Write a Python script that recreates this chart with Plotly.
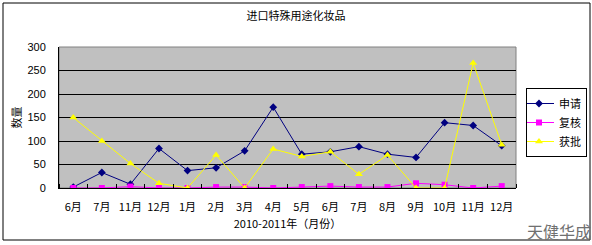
import plotly.graph_objects as go

months = ["6月", "7月", "11月", "12月", "1月", "2月", "3月", "4月", "5月", "6月", "7月", "8月", "9月", "10月", "11月", "12月"]
apply_vals = [2, 33, 8, 84, 37, 43, 79, 172, 72, 77, 88, 72, 65, 139, 133, 90]
review_vals = [0, 0, 3, 0, 0, 2, 2, 0, 2, 4, 2, 2, 10, 7, 0, 4]
approve_vals = [150, 100, 52, 10, 0, 70, 0, 83, 67, 77, 29, 70, 0, 0, 266, 92]

W, H = 592, 245
L, R, T, B = 59, 516, 47, 188
pw, ph = R - L, B - T

def px(x):
    return (x - L) / pw

def py(y):
    return (B - y) / ph

xs = list(range(len(months)))
font_cn = "SimSun, 'Noto Sans CJK SC', sans-serif"

fig = go.Figure()
fig.add_trace(go.Scatter(x=xs, y=apply_vals, name="申请", mode="lines+markers",
                         line=dict(color="#000080", width=1),
                         marker=dict(symbol="diamond", size=6, color="#000080")))
fig.add_trace(go.Scatter(x=xs, y=review_vals, name="复核", mode="lines+markers",
                         line=dict(color="#FF00FF", width=1),
                         marker=dict(symbol="square", size=6, color="#FF00FF")))
fig.add_trace(go.Scatter(x=xs, y=approve_vals, name="获批", mode="lines+markers",
                         line=dict(color="#FFFF00", width=1),
                         marker=dict(symbol="triangle-up", size=7, color="#FFFF00")))

fig.update_layout(
    width=W, height=H,
    margin=dict(l=L, r=W - R, t=T, b=H - B, pad=0, autoexpand=False),
    paper_bgcolor="white",
    plot_bgcolor="#C0C0C0",
    font=dict(family=font_cn, size=11, color="black"),
    title=dict(text="进口特殊用途化妆品", x=px(296), xref="paper", xanchor="center",
               y=1 - 16 / H, yanchor="middle", font=dict(size=11)),
    xaxis=dict(range=[-0.5, len(months) - 0.5], tickmode="array", tickvals=xs, ticktext=months,
               ticks="", showgrid=False, zeroline=False, showline=True, linecolor="black",
               linewidth=1, mirror=False, tickfont=dict(size=11), ticklabelstandoff=9,
               minor=dict(ticks="inside", tick0=-0.5, dtick=1, ticklen=4, tickcolor="black", showgrid=False),
               title=dict(text="2010-2011年（月份）", font=dict(size=11), standoff=7)),
    yaxis=dict(range=[0, 300], dtick=50, showgrid=True, gridcolor="black", gridwidth=1,
               zeroline=False, showline=True, linecolor="black", linewidth=1,
               ticks="", ticklabelstandoff=10, tickfont=dict(family="Arial, sans-serif", size=11),
               title=dict(text="数量", font=dict(size=11), standoff=3)),
    legend=dict(x=px(526), y=py(88), xanchor="left", yanchor="top", xref="paper", yref="paper",
                bgcolor="white", bordercolor="black", borderwidth=1,
                font=dict(size=11), tracegroupgap=0, itemwidth=30, indentation=-8,
                entrywidth=0),
    showlegend=True,
)

fig.add_shape(type="rect", xref="paper", yref="paper", x0=0, y0=0, x1=1, y1=1,
              line=dict(color="#808080", width=1), fillcolor="rgba(0,0,0,0)", layer="below")
fig.add_shape(type="rect", xref="paper", yref="paper", x0=px(3), y0=py(240), x1=px(590), y1=py(3),
              line=dict(color="black", width=1), fillcolor="rgba(0,0,0,0)")
fig.add_annotation(text="天健华成", xref="paper", yref="paper", x=px(593), y=py(245),
                   xanchor="right", yanchor="bottom", showarrow=False,
                   font=dict(size=16, color="#707070", family=font_cn))

fig.write_html("out.html")
